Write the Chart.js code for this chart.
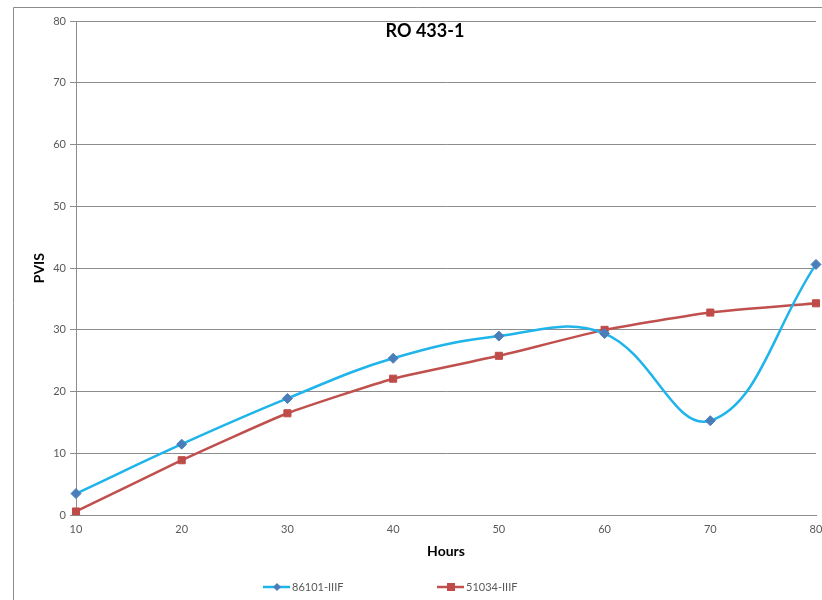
<!DOCTYPE html>
<html>
<head>
<meta charset="utf-8">
<script src="https://cdn.jsdelivr.net/npm/chart.js@4"></script>
<style>
  html, body { margin: 0; padding: 0; background: #fff; }
  #wrap { width: 822px; height: 600px; position: relative; }
</style>
</head>
<body>
<div id="wrap"><canvas id="grafico"></canvas></div>
<script>
const hours = ["10", "20", "30", "40", "50", "60", "70", "80"];
const serie86101 = [3.5, 11.5, 18.9, 25.4, 29.0, 29.4, 15.3, 40.6];
const serie51034 = [0.6, 8.9, 16.5, 22.1, 25.8, 30.0, 32.8, 34.3];
const yTicks = [0, 10, 20, 30, 40, 50, 60, 70, 80];

const font = "Lato, 'Open Sans', sans-serif";

// marco del grafico, titulo y leyenda estilo Excel
const extras = {
  id: "extras",
  beforeDraw(chart) {
    const c = chart.ctx;
    c.save();
    c.fillStyle = "#fff";
    c.fillRect(0, 0, chart.width, chart.height);
    c.strokeStyle = "#8c8c8c";
    c.lineWidth = 1;
    c.beginPath();
    c.moveTo(13.5, 600);
    c.lineTo(13.5, 7.5);
    c.lineTo(822, 7.5);
    c.stroke();
    c.restore();
  },
  afterDraw(chart) {
    const c = chart.ctx;
    c.save();
    c.fillStyle = "#000";
    c.font = "bold 18px " + font;
    c.textAlign = "center";
    c.textBaseline = "middle";
    c.fillText("RO 433-1", 425, 31);

    const items = [
      { ds: chart.data.datasets[0], x: 263 },
      { ds: chart.data.datasets[1], x: 437 }
    ];
    const y = 587;
    items.forEach(it => {
      c.strokeStyle = it.ds.borderColor;
      c.lineWidth = 2.5;
      c.beginPath();
      c.moveTo(it.x, y);
      c.lineTo(it.x + 27, y);
      c.stroke();
      c.fillStyle = it.ds.pointBackgroundColor;
      const mx = it.x + 14;
      if (it.ds.pointStyle === "rectRot") {
        c.beginPath();
        c.moveTo(mx, y - 4);
        c.lineTo(mx + 4, y);
        c.lineTo(mx, y + 4);
        c.lineTo(mx - 4, y);
        c.closePath();
        c.fill();
      } else {
        c.fillRect(mx - 4, y - 4, 8, 8);
      }
      c.fillStyle = "#595959";
      c.font = "11px " + font;
      c.textAlign = "left";
      c.fillText(it.ds.label, it.x + 29, y);
    });
    c.restore();
  }
};

new Chart(document.getElementById("grafico").getContext("2d"), {
  type: "line",
  data: {
    labels: hours,
    datasets: [
      {
        label: "86101-IIIF",
        data: serie86101,
        borderColor: "#1fb4ea",
        borderWidth: 2.5,
        tension: 0.4,
        pointStyle: "rectRot",
        pointRadius: 5,
        pointBackgroundColor: "#4a7ebb",
        pointBorderColor: "#4a7ebb",
        pointBorderWidth: 1
      },
      {
        label: "51034-IIIF",
        data: serie51034,
        borderColor: "#c0504d",
        borderWidth: 2.5,
        tension: 0.15,
        pointStyle: "rect",
        pointRadius: 5,
        pointBackgroundColor: "#be4b48",
        pointBorderColor: "#be4b48",
        pointBorderWidth: 1
      }
    ]
  },
  options: {
    responsive: true,
    maintainAspectRatio: false,
    animation: false,
    layout: { padding: { left: 0, right: 5, top: 21, bottom: 36 } },
    plugins: {
      legend: { display: false },
      tooltip: { enabled: false }
    },
    scales: {
      x: {
        type: "category",
        offset: false,
        grid: { display: false },
        border: { color: "#8c8c8c" },
        ticks: { color: "#595959", font: { family: font, size: 11, lineHeight: 1 }, padding: 1, maxRotation: 0, autoSkip: false },
        title: { display: true, text: "Hours", color: "#000", font: { family: font, size: 14, weight: "bold" }, padding: { top: 7, bottom: 4 } },
        afterFit(s) { s.paddingRight = 0; }
      },
      y: {
        min: 0,
        max: 80,
        afterBuildTicks(s) { s.ticks = yTicks.map(v => ({ value: v })); },
        grid: { color: "#8c8c8c", tickLength: 6 },
        border: { color: "#8c8c8c" },
        ticks: { color: "#595959", font: { family: font, size: 11 }, padding: 4 },
        title: { display: true, text: "PVIS", color: "#000", font: { family: font, size: 14, weight: "bold" }, padding: { top: 31, bottom: 0 } },
        afterFit(s) { s.width = 76; }
      }
    }
  },
  plugins: [extras]
});
</script>
</body>
</html>
